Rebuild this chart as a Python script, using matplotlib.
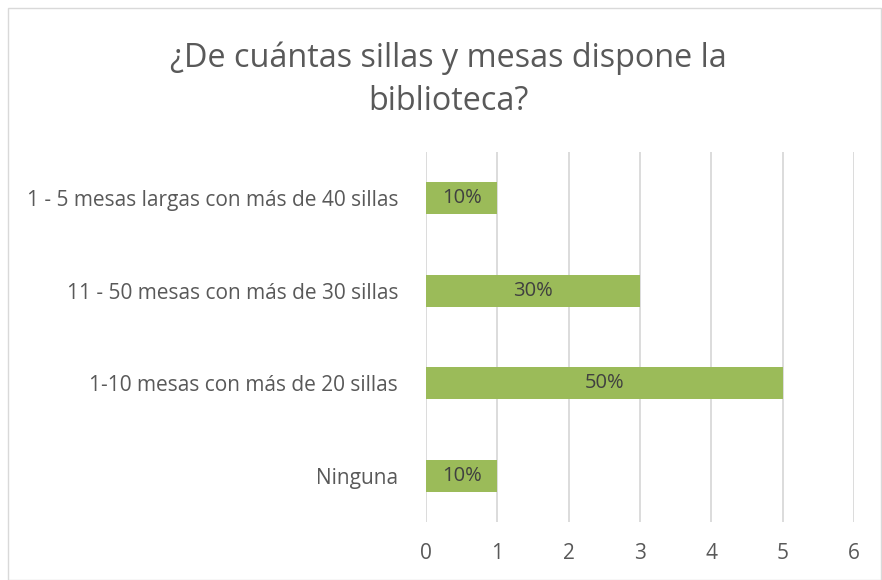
import matplotlib

matplotlib.use("Agg")
import matplotlib.pyplot as plt
from matplotlib.patches import Rectangle

categories = [
    "Ninguna",
    "1-10 mesas con más de 20 sillas",
    "11 - 50 mesas con más de 30 sillas",
    "1 - 5 mesas largas con más de 40 sillas",
]
counts = [1, 5, 3, 1]
labels = ["10%", "50%", "30%", "10%"]
x_ticks = [0, 1, 2, 3, 4, 5, 6]

plt.rcParams["font.family"] = ["Open Sans", "DejaVu Sans"]
text_color = "#595959"
bar_color = "#9BBB59"

W, H = 882, 580
fig = plt.figure(figsize=(W / 100, H / 100), dpi=100)
ax = fig.add_axes([426 / W, 1 - 522 / H, (854 - 426) / W, (522 - 152) / H])

pos = range(len(categories))
bars = ax.barh(pos, counts, height=0.35, color=bar_color, zorder=3)
for bar, lab in zip(bars, labels):
    ax.text(bar.get_width() / 2, bar.get_y() + bar.get_height() / 2, lab,
            ha="center", va="center", fontsize=14.5, color="#404040", zorder=4)

ax.set_xlim(0, 6)
ax.set_ylim(-0.5, len(categories) - 0.5)
ax.set_xticks(x_ticks)
ax.set_yticks(list(pos))
ax.set_yticklabels(categories)
ax.tick_params(axis="both", length=0, labelsize=15, colors=text_color)
ax.tick_params(axis="x", pad=15)
ax.tick_params(axis="y", pad=20)
ax.grid(axis="x", color="#d9d9d9", linewidth=1.3, zorder=0)
for s in ax.spines.values():
    s.set_visible(False)

fig.text(448 / W, 1 - 80 / H, "¿De cuántas sillas y mesas dispone la\nbiblioteca?",
         ha="center", va="center", fontsize=23.3, color=text_color, linespacing=1.4)

fig.patches.append(Rectangle((8 / W, 0), 1 - 9 / W, 1 - 8 / H, transform=fig.transFigure,
                             fill=False, edgecolor="#d9d9d9", linewidth=1))

fig.savefig("out.png", dpi=100)
